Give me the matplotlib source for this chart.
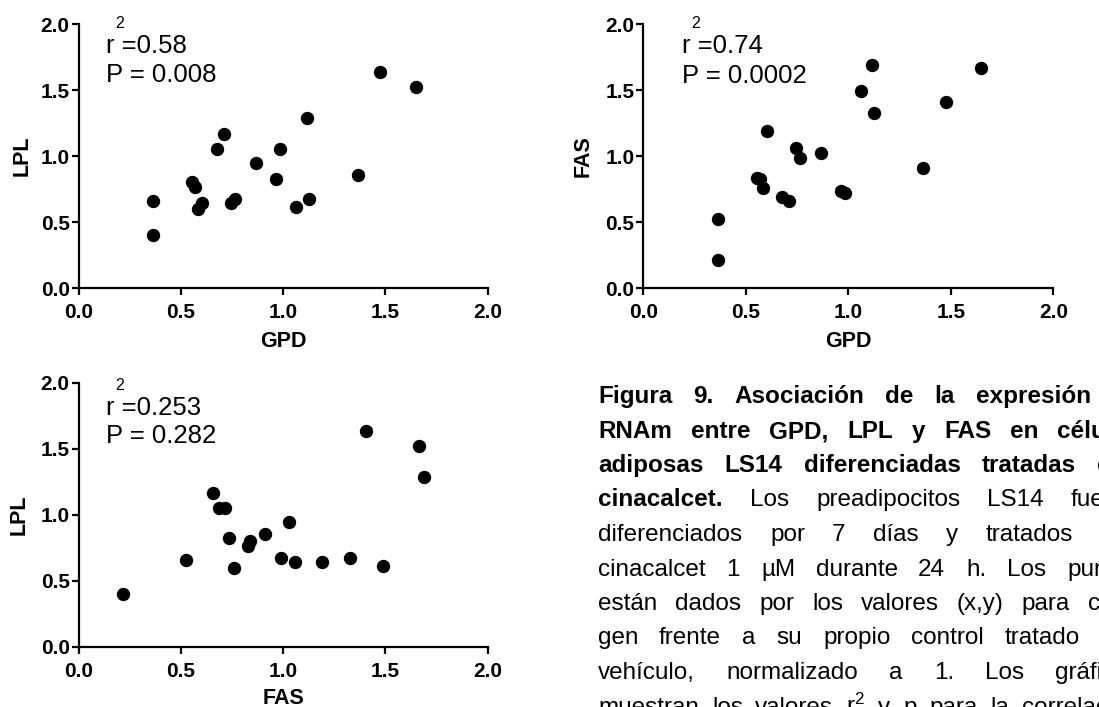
import numpy as np
import matplotlib
matplotlib.use("Agg")
import matplotlib.pyplot as plt

plt.rcParams['font.family'] = ['Liberation Sans', 'DejaVu Sans']
plt.rcParams['mathtext.fontset'] = 'custom'
plt.rcParams['mathtext.rm'] = 'Liberation Sans'
plt.rcParams['mathtext.it'] = 'Liberation Sans'

# ── Datos (expresión relativa, cada muestra frente a su control) ─────────
gpd = [0.365, 0.365, 0.555, 0.571, 0.585, 0.604, 0.677, 0.711, 0.744, 0.766,
       0.865, 0.964, 0.983, 1.061, 1.118, 1.125, 1.364, 1.475, 1.649]
lpl = [0.657, 0.405, 0.806, 0.763, 0.596, 0.646, 1.053, 1.164, 0.644, 0.677,
       0.944, 0.823, 1.056, 0.614, 1.285, 0.674, 0.856, 1.636, 1.525]
fas = [0.525, 0.215, 0.837, 0.826, 0.757, 1.190, 0.686, 0.657, 1.058, 0.988,
       1.026, 0.737, 0.717, 1.489, 1.690, 1.328, 0.909, 1.407, 1.666]

ticks = [0.0, 0.5, 1.0, 1.5, 2.0]
tick_labels = ['0.0', '0.5', '1.0', '1.5', '2.0']

r2_vals = ['0.58', '0.74', '0.253']
p_vals = ['0.008', '0.0002', '0.282']

caption = [
    [("Figura", 1), ("9.", 1), ("Asociación", 1), ("de", 1), ("la", 1), ("expresión", 1), ("de", 1)],
    [("RNAm", 1), ("entre", 1), ("GPD,", 1), ("LPL", 1), ("y", 1), ("FAS", 1), ("en", 1), ("células", 1)],
    [("adiposas", 1), ("LS14", 1), ("diferenciadas", 1), ("tratadas", 1), ("con", 1)],
    [("cinacalcet.", 1), ("Los", 0), ("preadipocitos", 0), ("LS14", 0), ("fueron", 0)],
    [("diferenciados", 0), ("por", 0), ("7", 0), ("días", 0), ("y", 0), ("tratados", 0), ("con", 0)],
    [("cinacalcet", 0), ("1", 0), ("µM", 0), ("durante", 0), ("24", 0), ("h.", 0), ("Los", 0), ("puntos", 0)],
    [("están", 0), ("dados", 0), ("por", 0), ("los", 0), ("valores", 0), ("(x,y)", 0), ("para", 0), ("cada", 0)],
    [("gen", 0), ("frente", 0), ("a", 0), ("su", 0), ("propio", 0), ("control", 0), ("tratado", 0), ("con", 0)],
    [("vehículo,", 0), ("normalizado", 0), ("a", 0), ("1.", 0), ("Los", 0), ("gráficos", 0)],
    [("muestran", 0), ("los", 0), ("valores", 0), ("r$^{2}$", 0), ("y", 0), ("p", 0), ("para", 0), ("la", 0), ("correlación", 0)],
]

# ── Figura ───────────────────────────────────────────────────────────────
W, H = 1099, 707
fig = plt.figure(figsize=(W / 100, H / 100), dpi=100)


def px_axes(x0, x1, y_top, y_bot):
    return fig.add_axes([x0 / W, 1 - y_bot / H, (x1 - x0) / W, (y_bot - y_top) / H])


paneles = [
    # x datos, y datos, nombres, rect en px, pos. texto, pos. etiquetas
    (gpd, lpl, "GPD", "LPL", (78.7, 487.7, 24, 288), (0.067, 0.89, 0.78), (-0.112, -0.163)),
    (gpd, fas, "GPD", "FAS", (643.3, 1053.3, 24, 288), (0.094, 0.89, 0.777), (-0.122, -0.163)),
    (fas, lpl, "FAS", "LPL", (78.7, 487.7, 383, 647), (0.067, 0.879, 0.773), (-0.119, -0.155)),
]

for i, (xs, ys, xlab, ylab, rect, tpos, lpos) in enumerate(paneles):
    ax = px_axes(*rect)
    ax.plot(xs, ys, 'o', color='black', markersize=8.6, clip_on=False)
    ax.set_xlim(0, 2)
    ax.set_ylim(0, 2)
    ax.set_xticks(ticks)
    ax.set_yticks(ticks)
    ax.set_xticklabels(tick_labels, fontsize=15, fontweight='bold')
    ax.set_yticklabels(tick_labels, fontsize=15, fontweight='bold')
    for s in ['top', 'right']:
        ax.spines[s].set_visible(False)
    for s in ['left', 'bottom']:
        ax.spines[s].set_linewidth(1.6)
    ax.tick_params(axis='both', direction='out', length=5, width=1.6, color='black')
    ax.tick_params(axis='x', pad=5.5)
    ax.tick_params(axis='y', pad=1.5)
    ax.set_xlabel(xlab, fontsize=15.5, fontweight='bold')
    ax.set_ylabel(ylab, fontsize=15.5, fontweight='bold')
    ax.xaxis.set_label_coords(0.5, lpos[1])
    ax.yaxis.set_label_coords(lpos[0], 0.5)

    tx, ty1, ty2 = tpos
    ax.text(tx, ty1, "r =" + r2_vals[i], transform=ax.transAxes, fontsize=18.5, va='baseline')
    ax.annotate("2", xy=(tx, ty1), xycoords='axes fraction', xytext=(6.5, 18),
                textcoords='offset points', fontsize=11.5, va='baseline')
    ax.text(tx, ty2, "P = " + p_vals[i], transform=ax.transAxes, fontsize=18.5, va='baseline')

# ── Leyenda justificada a la derecha ─────────────────────────────────────
renderer = fig.canvas.get_renderer()
izq, der = 598, 1140
y0, paso = 403, 34.5
for n, linea in enumerate(caption):
    yb = round(y0 + n * paso)
    arts = [fig.text(0, 1 - yb / H, w, fontsize=17.5, va='baseline', ha='left',
                     fontweight='bold' if b else 'normal') for w, b in linea]
    anchos = [a.get_window_extent(renderer).width for a in arts]
    hueco = (der - izq - sum(anchos)) / (len(arts) - 1)
    x = izq
    for a, w in zip(arts, anchos):
        a.set_x(round(x) / W)
        x += w + hueco

fig.savefig("out.png", dpi=100)
